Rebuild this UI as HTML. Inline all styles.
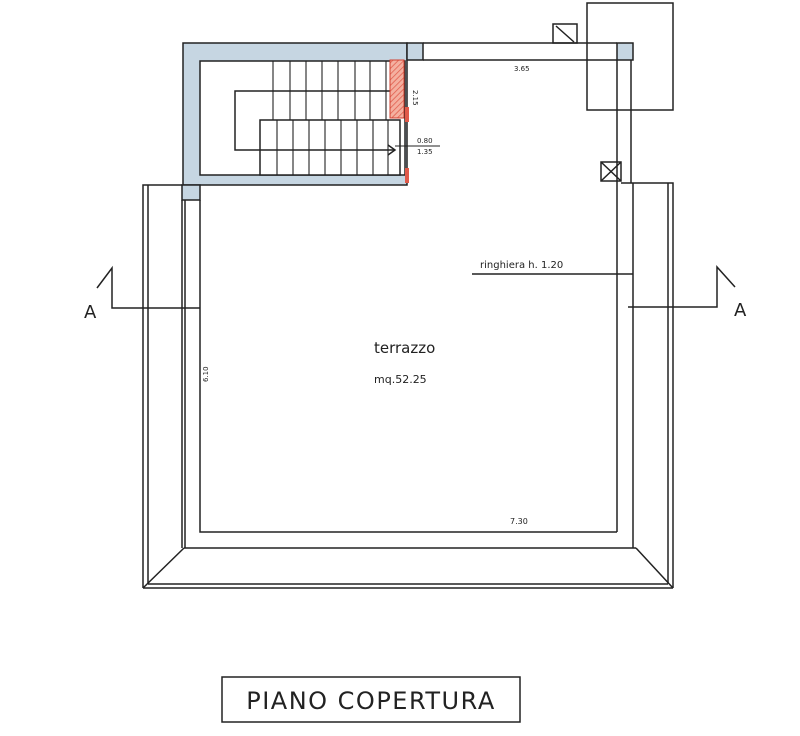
<!DOCTYPE html>
<html><head><meta charset="utf-8"><style>
html,body{margin:0;padding:0;background:#fff;}
svg{display:block;}
text{font-family:"DejaVu Sans","Liberation Sans",sans-serif;fill:#222;}
</style></head><body>
<svg width="800" height="736" viewBox="0 0 800 736" xmlns="http://www.w3.org/2000/svg">
<defs>
<pattern id="h" width="4" height="4" patternUnits="userSpaceOnUse" patternTransform="rotate(45)">
<rect width="4" height="4" fill="#f4b0a0"/><line x1="0" y1="0" x2="0" y2="4" stroke="#e05a4a" stroke-width="1.5"/>
</pattern>
</defs>
<g stroke="#222" stroke-width="1.5" fill="none">
<rect x="587" y="3" width="86" height="107"/>
<rect x="553" y="24" width="24" height="19"/>
<line x1="556" y1="26" x2="574" y2="42"/>
<path d="M183 43 H407 V185 H183 Z" fill="#c6d6e2"/>
<rect x="200" y="61" width="205" height="114" fill="#fff"/>
<rect x="407" y="43" width="16" height="17" fill="#c6d6e2"/>
<rect x="617" y="43" width="16" height="17" fill="#c6d6e2"/>
<rect x="182" y="185" width="18" height="15" fill="#c6d6e2"/>
<line x1="423" y1="43" x2="617" y2="43"/>
<line x1="423" y1="60" x2="617" y2="60"/>
<line x1="617" y1="60" x2="617" y2="532"/>
<line x1="631" y1="60" x2="631" y2="183"/>
<polyline points="621,183 673,183 673,588"/>
<line x1="668" y1="183" x2="668" y2="584"/>
<line x1="633" y1="183" x2="633" y2="548"/>
<rect x="601" y="162" width="20" height="19"/>
<line x1="601" y1="162" x2="621" y2="181"/><line x1="621" y1="162" x2="601" y2="181"/>
<polyline points="182,185 143,185 143,588"/>
<line x1="148" y1="185" x2="148" y2="584"/>
<line x1="182" y1="200" x2="182" y2="548"/>
<line x1="185" y1="200" x2="185" y2="548"/>
<polyline points="200,200 200,532 617,532"/>
<line x1="184" y1="548" x2="636" y2="548"/>
<line x1="143" y1="588" x2="673" y2="588"/>
<line x1="148" y1="584" x2="668" y2="584"/>
<line x1="143" y1="588" x2="184" y2="548"/>
<line x1="673" y1="588" x2="636" y2="548"/>
<g stroke-width="1.1">
<line x1="273" y1="61" x2="273" y2="120"/><line x1="290" y1="61" x2="290" y2="120"/><line x1="306" y1="61" x2="306" y2="120"/><line x1="322" y1="61" x2="322" y2="120"/><line x1="338" y1="61" x2="338" y2="120"/><line x1="355" y1="61" x2="355" y2="120"/><line x1="370" y1="61" x2="370" y2="120"/><line x1="386" y1="61" x2="386" y2="120"/>
</g>
<rect x="260" y="120" width="140" height="55" fill="#fff"/>
<g stroke-width="1.1">
<line x1="277" y1="120" x2="277" y2="175"/><line x1="293" y1="120" x2="293" y2="175"/><line x1="309" y1="120" x2="309" y2="175"/><line x1="325" y1="120" x2="325" y2="175"/><line x1="341" y1="120" x2="341" y2="175"/><line x1="357" y1="120" x2="357" y2="175"/><line x1="373" y1="120" x2="373" y2="175"/><line x1="388" y1="120" x2="388" y2="175"/>
</g>
<polyline points="390,91 235,91 235,150 395,150"/>
<polyline points="388,145 395,150 388,155"/>
<line x1="395" y1="146" x2="440" y2="146" stroke-width="1"/>
<line x1="472" y1="274" x2="633" y2="274"/>
<polyline points="97,288 112,268 112,308 200,308"/>
<polyline points="735,287 717,267 717,307 628,307"/>
</g>
<rect x="390" y="60" width="14" height="58" fill="url(#h)" stroke="#d04030" stroke-width="1"/>
<rect x="405" y="107" width="4" height="15" fill="#e05a4a"/>
<rect x="405" y="168" width="4" height="15" fill="#e05a4a"/>
<text x="413" y="90" font-size="7" transform="rotate(90 413 90)">2.15</text>
<text x="417" y="143" font-size="7">0.80</text>
<text x="417" y="154" font-size="7">1.35</text>
<text x="514" y="71" font-size="7">3.65</text>
<text x="480" y="268" font-size="10">ringhiera h. 1.20</text>
<text x="374" y="353" font-size="15">terrazzo</text>
<text x="374" y="383" font-size="11">mq.52.25</text>
<text x="208" y="382" font-size="7" transform="rotate(-90 208 382)">6.10</text>
<text x="510" y="524" font-size="8">7.30</text>
<text x="84" y="318" font-size="18">A</text>
<text x="734" y="316" font-size="18">A</text>
<rect x="222" y="677" width="298" height="45" fill="none" stroke="#222" stroke-width="1.5"/>
<text x="371" y="709" font-size="24" text-anchor="middle" letter-spacing="1.5">PIANO  COPERTURA</text>
</svg>
</body></html>
